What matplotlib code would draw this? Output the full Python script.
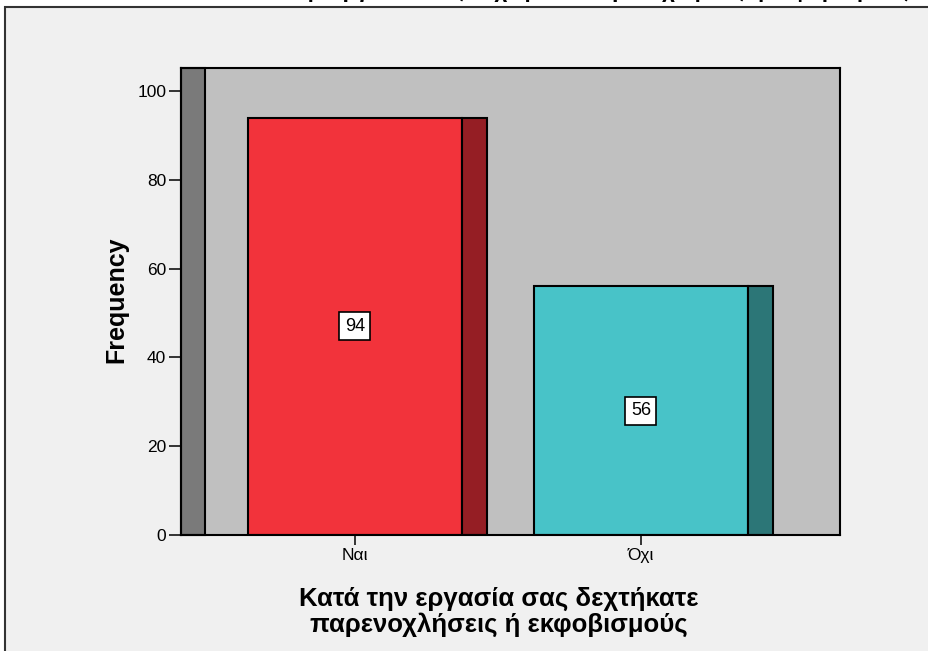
import matplotlib
matplotlib.use("Agg")
import matplotlib.pyplot as plt
from matplotlib.patches import Rectangle

# Data
categories = ['Ναι', 'Όχι']
frequencies = [94, 56]
y_ticks = [0, 20, 40, 60, 80, 100]
x_title = 'Κατά την εργασία σας δεχτήκατε\nπαρενοχλήσεις ή εκφοβισμούς'
y_title = 'Frequency'

front_colors = ['#f2333b', '#48c3c8']
side_colors = ['#951e24', '#2c7677']

plt.rcParams['font.family'] = ['Liberation Sans', 'DejaVu Sans']

W, H = 929, 651
fig = plt.figure(figsize=(W / 100, H / 100), dpi=100, facecolor='white')

# heading of the chart above the panel (mostly outside the canvas)
fig.text(570 / W, 1 + 3 / H, 'Κατά την εργασία σας δεχτήκατε παρενοχλήσεις ή εκφοβισμούς',
         ha='center', va='baseline', fontsize=16, weight='bold', color='black')

# panel frame
fig.patches.append(Rectangle((5 / W, -0.1), 1.2, 1.1 - 7 / H, transform=fig.transFigure,
                             facecolor='#f0f0f0', edgecolor='#333333', lw=1.5, zorder=-5))

ax = fig.add_axes([181 / W, (H - 535) / H, (840 - 181) / W, (535 - 68) / H])
ax.set_zorder(2)
ax.set_facecolor('#c0c0c0')

x0, x1 = -0.608, 1.696
ax.set_xlim(x0, x1)
ax.set_ylim(0, 105.2)

# left wall of the 3D box
ax.add_patch(Rectangle((x0, 0), 0.084, 105.2, facecolor='#7a7a7a', edgecolor='black',
                       lw=1.5, zorder=1, clip_on=False))

front_w = 0.748
side_w = 0.0874
xs = list(range(len(categories)))
for i, v in enumerate(frequencies):
    ax.bar(xs[i], v, width=front_w, color=front_colors[i], edgecolor='black', lw=1.5, zorder=2)
    ax.bar(xs[i] + front_w / 2, v, width=side_w, align='edge', color=side_colors[i],
           edgecolor='black', lw=1.5, zorder=2)
    ax.text(xs[i], v / 2, str(v), ha='center', va='center', fontsize=13, zorder=3,
            bbox=dict(boxstyle='square,pad=0.3', fc='white', ec='black', lw=1.2))

ax.set_xticks(xs)
ax.set_xticklabels(categories, fontsize=12.5)
ax.set_yticks(y_ticks)
ax.set_yticklabels([str(t) for t in y_ticks], fontsize=12.5)
ax.tick_params(axis='y', length=8.6, width=1.1, pad=2)
ax.tick_params(axis='x', length=7.2, width=1.1, pad=2)
for s in ax.spines.values():
    s.set_linewidth(1.5)
    s.set_color('black')
    s.set_zorder(4)

fig.text(116 / W, 1 - 300 / H, y_title, rotation=90, ha='center', va='center',
         fontsize=18, weight='bold')
fig.text(499 / W, 1 - 612 / H, x_title, ha='center', va='center',
         fontsize=18.5, weight='bold', linespacing=1.05)

fig.savefig('out.png', dpi=100, facecolor='white')
